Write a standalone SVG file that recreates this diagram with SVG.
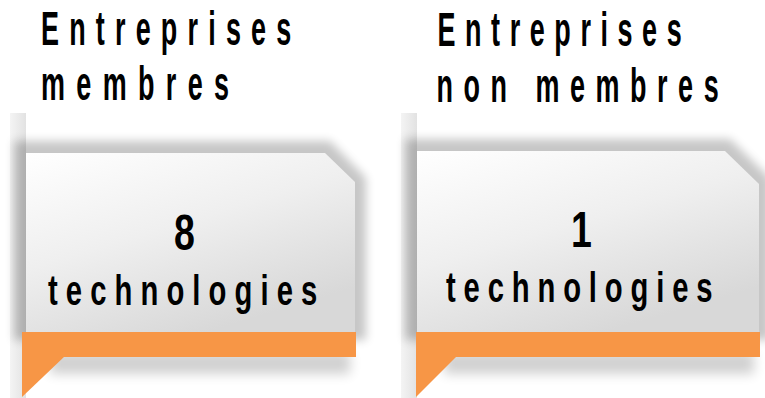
<svg xmlns="http://www.w3.org/2000/svg" width="765" height="398" viewBox="0 0 765 398">
  <style>
    .t { font-family: "Liberation Sans", Arial, sans-serif; font-weight: bold; fill: #000; }
    .title { font-size: 49px; }
    .num { font-size: 50px; }
    .tech { font-size: 43px; }
    .orange { fill: #F79646; }
    .card { fill: url(#cardGrad); }
    .shadow { fill: #000; opacity: 0.22; filter: url(#blur); }
    .under { fill: #000; opacity: 0.18; filter: url(#blur2); }
  </style>
  <defs>
    <linearGradient id="cardGrad" x1="0" y1="0" x2="0.55" y2="1">
      <stop offset="0" stop-color="#ffffff"/>
      <stop offset="0.5" stop-color="#efefef"/>
      <stop offset="1" stop-color="#d8d8d8"/>
    </linearGradient>
    <linearGradient id="stripGrad" x1="0" y1="0" x2="1" y2="0">
      <stop offset="0" stop-color="#f4f4f4"/>
      <stop offset="1" stop-color="#e2e2e2"/>
    </linearGradient>
    <filter id="blur" x="-20%" y="-20%" width="140%" height="140%">
      <feGaussianBlur stdDeviation="5"/>
    </filter>
    <filter id="blur2" x="-20%" y="-50%" width="140%" height="200%">
      <feGaussianBlur stdDeviation="6"/>
    </filter>
  </defs>
  <rect width="765" height="398" fill="#ffffff"/>

  <g id="node-left">
    <rect x="10" y="113" width="16" height="285" fill="url(#stripGrad)"/>
    <polygon class="shadow" points="14,141 330,141 366,178 366,340 14,340"/>
    <rect class="under" x="50" y="352" width="300" height="22"/>
    <polygon class="card" points="26,153 325,153 355,182 355,332 26,332"/>
    <rect class="orange" x="22" y="332" width="334" height="25"/>
    <polygon class="orange" points="22,356 65,356 22,397"/>
    <text class="t title" transform="translate(41,45) scale(0.55,1)" textLength="455" lengthAdjust="spacing">Entreprises</text>
    <text class="t title" transform="translate(41,100) scale(0.55,1)" textLength="342" lengthAdjust="spacing">membres</text>
    <text class="t num" transform="translate(184.5,250) scale(0.75,1)" text-anchor="middle">8</text>
    <text class="t tech" transform="translate(48,305) scale(0.68,1)" textLength="396" lengthAdjust="spacing">technologies</text>
  </g>

  <g id="node-right">
    <rect x="401" y="113" width="16" height="285" fill="url(#stripGrad)"/>
    <polygon class="shadow" points="405,139 730,139 770,178 770,340 405,340"/>
    <rect class="under" x="444" y="352" width="310" height="22"/>
    <polygon class="card" points="417,151 725,151 759,184 759,332 417,332"/>
    <rect class="orange" x="416" y="332" width="344" height="25"/>
    <polygon class="orange" points="416,356 457,356 416,397"/>
    <text class="t title" transform="translate(437.5,46) scale(0.55,1)" textLength="444" lengthAdjust="spacing">Entreprises</text>
    <text class="t title" transform="translate(436.5,102) scale(0.55,1)" textLength="513" lengthAdjust="spacing">non membres</text>
    <text class="t num" transform="translate(581.5,247) scale(0.75,1)" text-anchor="middle">1</text>
    <text class="t tech" transform="translate(446,302) scale(0.68,1)" textLength="392" lengthAdjust="spacing">technologies</text>
  </g>

  <g id="connectors"/>
</svg>
